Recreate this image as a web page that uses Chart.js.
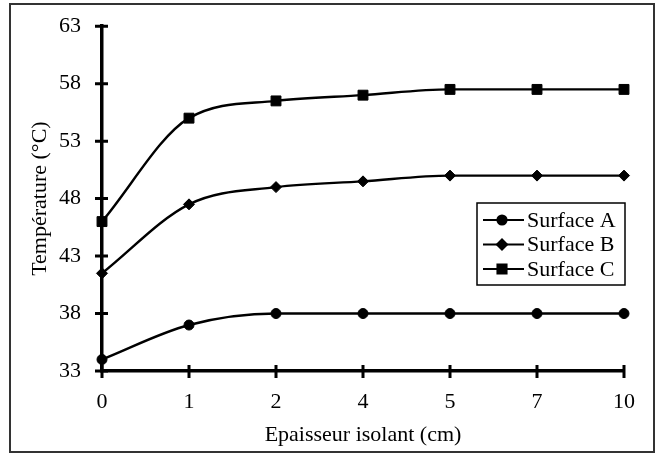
<!DOCTYPE html>
<html>
<head>
<meta charset="utf-8">
<script src="https://cdn.jsdelivr.net/npm/chart.js@4"></script>
<style>
  html, body { margin: 0; padding: 0; background: #fff; }
  #wrap { width: 660px; height: 458px; }
</style>
</head>
<body>
<div id="wrap"><canvas id="chart" width="660" height="458"></canvas></div>
<script>
// --- data ---
const thicknessLabels = ['0', '1', '2', '4', '5', '7', '10'];
const surfaceA = [34, 37, 38, 38, 38, 38, 38];
const surfaceB = [41.5, 47.5, 49, 49.5, 50, 50, 50];
const surfaceC = [46, 55, 56.5, 57, 57.5, 57.5, 57.5];
const seriesNames = ['Surface A', 'Surface B', 'Surface C'];
const yMin = 33, yMax = 63, yStep = 5;

const FONT = { family: '"Liberation Serif", "DejaVu Serif", serif', size: 22 };

// outer frame round the whole figure
const framePlugin = {
    id: 'frame',
    beforeDraw(chart) {
        const ctx = chart.ctx;
        ctx.save();
        ctx.strokeStyle = '#333';
        ctx.lineWidth = 2;
        ctx.strokeRect(10, 4, 644, 448);
        ctx.restore();
    }
};

// tick marks crossing the axis line on both sides
const crossTicks = {
    id: 'crossTicks',
    afterDraw(chart) {
        const ctx = chart.ctx;
        const area = chart.chartArea;
        ctx.save();
        ctx.strokeStyle = '#000';
        ctx.lineWidth = 3;
        ctx.beginPath();
        chart.scales.y.ticks.forEach((t, i) => {
            const py = chart.scales.y.getPixelForTick(i);
            ctx.moveTo(area.left - 7, py);
            ctx.lineTo(area.left + 6, py);
        });
        chart.scales.x.ticks.forEach((t, i) => {
            const px = chart.scales.x.getPixelForTick(i);
            ctx.moveTo(px, area.bottom - 6);
            ctx.lineTo(px, area.bottom + 7);
        });
        ctx.stroke();
        ctx.restore();
    }
};

// legend box: line segment with the marker in the middle
const lineLegend = {
    id: 'lineLegend',
    afterDraw(chart) {
        const ctx = chart.ctx;
        const boxX = 477, boxY = 203, boxW = 148, boxH = 82;
        ctx.save();
        ctx.strokeStyle = '#000';
        ctx.lineWidth = 1.5;
        ctx.strokeRect(boxX, boxY, boxW, boxH);
        chart.data.datasets.forEach((ds, i) => {
            const cy = boxY + 17 + i * 24.5;
            ctx.strokeStyle = '#000';
            ctx.lineWidth = 2.2;
            ctx.beginPath();
            ctx.moveTo(boxX + 6, cy);
            ctx.lineTo(boxX + 47, cy);
            ctx.stroke();
            ctx.fillStyle = '#000';
            Chart.helpers.drawPoint(ctx, {
                pointStyle: ds.pointStyle,
                radius: ds.pointRadius * 0.9,
                rotation: 0,
                borderWidth: 1
            }, boxX + 25, cy);
            ctx.fillStyle = '#000';
            ctx.font = FONT.size + 'px ' + FONT.family;
            ctx.textBaseline = 'middle';
            ctx.textAlign = 'left';
            ctx.fillText(ds.label, boxX + 50, cy + 1);
        });
        ctx.restore();
    }
};

function makeDataset(label, values, style, radius) {
    return {
        label: label,
        data: values,
        borderColor: '#000',
        backgroundColor: '#000',
        borderWidth: 2.4,
        cubicInterpolationMode: 'monotone',
        pointStyle: style,
        pointRadius: radius,
        pointBackgroundColor: '#000',
        pointBorderColor: '#000',
        pointBorderWidth: 1,
        clip: false
    };
}

function renderChart() {
    const ctx = document.getElementById('chart').getContext('2d');
    new Chart(ctx, {
        type: 'line',
        data: {
            labels: thicknessLabels,
            datasets: [
                makeDataset(seriesNames[0], surfaceA, 'circle', 5),
                makeDataset(seriesNames[1], surfaceB, 'rectRot', 5.5),
                makeDataset(seriesNames[2], surfaceC, 'rect', 7)
            ]
        },
        options: {
            responsive: false,
            animation: false,
            layout: { padding: { top: 25, right: 36, left: 0, bottom: 0 } },
            plugins: {
                legend: { display: false },
                tooltip: { enabled: false }
            },
            scales: {
                x: {
                    type: 'category',
                    offset: false,
                    grid: { display: false },
                    border: { display: true, color: '#000', width: 3.5 },
                    ticks: { color: '#000', font: FONT, padding: 10, maxRotation: 0 },
                    title: {
                        display: true,
                        text: 'Epaisseur isolant (cm)',
                        color: '#000',
                        font: FONT,
                        padding: { top: 0, bottom: 10 }
                    },
                    afterFit(scale) { scale.height = 87; }
                },
                y: {
                    min: yMin,
                    max: yMax,
                    grid: { display: false },
                    border: { display: true, color: '#000', width: 3.5 },
                    ticks: { stepSize: yStep, color: '#000', font: FONT, padding: 13 },
                    title: {
                        display: true,
                        text: 'Température (°C)',
                        color: '#000',
                        font: FONT,
                        padding: { top: 27, bottom: 0 }
                    },
                    afterFit(scale) { scale.width = 102; }
                }
            }
        },
        plugins: [framePlugin, crossTicks, lineLegend]
    });
}

document.addEventListener('DOMContentLoaded', renderChart);
</script>
</body>
</html>
